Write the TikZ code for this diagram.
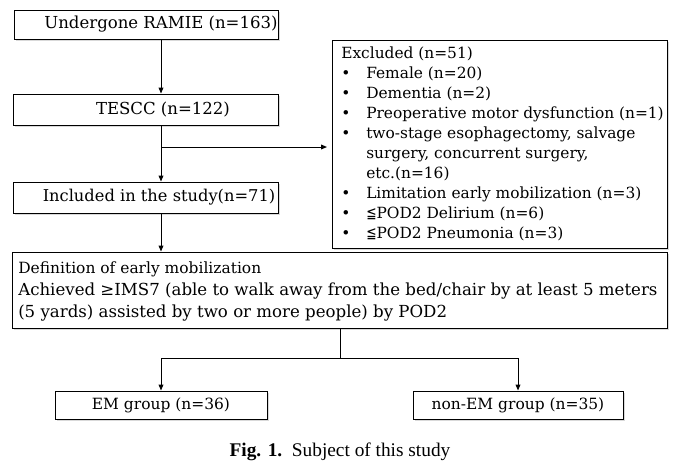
\documentclass[tikz,border=0pt]{standalone}
\usepackage{fontspec}
\setmainfont{Liberation Serif}
\newfontfamily\mf{DejaVu Serif}
\newfontfamily\symf[FakeStretch=0.8]{DejaVu Sans}
\usetikzlibrary{arrows.meta,shadows,fit}
\newcommand\leqq{{\symf ≦}}
\begin{document}
\begin{tikzpicture}[x=0.75pt,y=-0.75pt,
  box/.style={draw, line width=0.75pt, fill=white, inner sep=0pt,
    drop shadow={shadow xshift=1.3pt, shadow yshift=-1.3pt, opacity=0.3}},
  txt/.style={inner sep=0pt, font=\mf\fontsize{12.4}{16}\selectfont},
  etxt/.style={inner sep=0pt, anchor=base west, font=\mf\fontsize{11.55}{16}\selectfont},
  dtxt/.style={inner sep=0pt, anchor=base west, font=\mf\fontsize{12.45}{16}\selectfont},
  gtxt/.style={inner sep=0pt, font=\mf\fontsize{11.6}{16}\selectfont},
  arr/.style={line width=0.75pt, -{Triangle[length=4.5pt,width=3.6pt]}},
  ln/.style={line width=0.75pt}]
\useasboundingbox (0,0) rectangle (678,472);

% left column boxes
\node[box, fit={(14,10) (278,39)}] (b1) {};
\node[txt] (t1) at (161,24.5) {Undergone RAMIE (n=163)};
\node[box, fit={(13,94) (278,125)}] (b2) {};
\node[txt] (t2) at (163,109.5) {TESCC (n=122)};
\node[box, fit={(13,182) (278,213)}] (b3) {};
\node[txt, font=\mf\fontsize{12.2}{16}\selectfont] (t3) at (159,197.5) {Included in the study(n=71)};

% excluded box
\node[box, fit={(332,40) (667,248)}] (exc) {};
\node[etxt] (e0) at (341,58) {Excluded (n=51)};
\node[etxt] (u1) at (341,78) {\textbullet};
\node[etxt] (e1) at (366,78) {Female (n=20)};
\node[etxt] (u2) at (341,98) {\textbullet};
\node[etxt] (e2) at (366,98) {Dementia (n=2)};
\node[etxt] (u3) at (341,118) {\textbullet};
\node[etxt] (e3) at (366,118) {Preoperative motor dysfunction (n=1)};
\node[etxt] (u4) at (341,138) {\textbullet};
\node[etxt] (e4) at (366,138) {two-stage esophagectomy, salvage};
\node[etxt] (e4b) at (366,158) {surgery, concurrent surgery,};
\node[etxt] (e4c) at (366,178) {etc.(n=16)};
\node[etxt] (u5) at (341,198) {\textbullet};
\node[etxt] (e5) at (366,198) {Limitation early mobilization (n=3)};
\node[etxt] (u6) at (341,218) {\textbullet};
\node[etxt] (e6) at (366,218) {\leqq POD2 Delirium (n=6)};
\node[etxt] (u7) at (341,238) {\textbullet};
\node[etxt] (e7) at (366,238) {\leqq POD2 Pneumonia (n=3)};

% definition box
\node[box, fit={(12,252) (667,328)}] (def) {};
\node[dtxt, font=\mf\fontsize{11.6}{16}\selectfont] (d1) at (18,273) {Definition of early mobilization};
\node[dtxt] (d2) at (18,295) {Achieved ≥IMS7 (able to walk away from the bed/chair by at least 5 meters};
\node[dtxt] (d3) at (18,317) {(5 yards) assisted by two or more people) by POD2};

% groups
\node[box, fit={(55,391) (267,419)}] (em) {};
\node[gtxt] (emt) at (161,405) {EM group (n=36)};
\node[box, fit={(413,391) (623,419)}] (nem) {};
\node[gtxt] (nemt) at (518,405) {non-EM group (n=35)};

% connectors
\draw[arr] (t1 |- b1.south) -- (t1 |- b2.north);
\draw[arr] (t1 |- b2.south) -- (t1 |- b3.north);
\draw[arr] (t1 |- b3.south) -- (t1 |- def.north);
\coordinate (br) at (161,147);
\coordinate (bre) at (327,147);
\draw[arr] (br) -- (bre);
\coordinate (j) at (340,358);
\draw[ln] (def.south -| j) -- (j);
\draw[arr] (j) -| (em.north);
\draw[arr] (j) -| (nem.north);

% caption
\node[inner sep=0pt, font=\fontsize{14.5}{17}\selectfont] (cap) at (340,452) {\textbf{Fig. 1.}\enspace Subject of this study};
\end{tikzpicture}
\end{document}
